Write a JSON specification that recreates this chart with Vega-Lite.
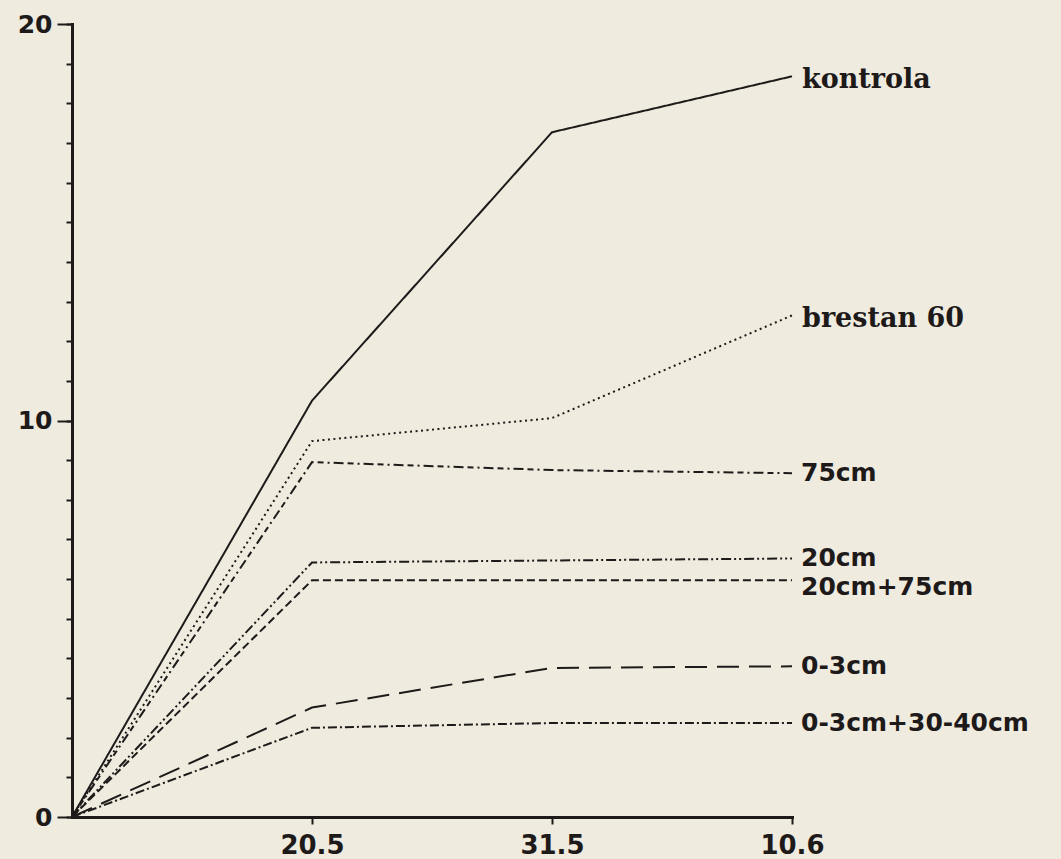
{
  "$schema": "https://vega.github.io/schema/vega-lite/v6.json",
  "width": 720,
  "height": 793,
  "autosize": {"type": "none"},
  "padding": {"left": 72, "top": 24, "right": 269, "bottom": 42},
  "background": "#efebdf",
  "config": {"view": {"stroke": null}},
  "datasets": {
    "growth": [
      {"series": "kontrola", "t": 0, "v": 0}, {"series": "kontrola", "t": 1, "v": 10.5}, {"series": "kontrola", "t": 2, "v": 17.27}, {"series": "kontrola", "t": 3, "v": 18.68},
      {"series": "brestan 60", "t": 0, "v": 0}, {"series": "brestan 60", "t": 1, "v": 9.48}, {"series": "brestan 60", "t": 2, "v": 10.06}, {"series": "brestan 60", "t": 3, "v": 12.65},
      {"series": "75cm", "t": 0, "v": 0}, {"series": "75cm", "t": 1, "v": 8.95}, {"series": "75cm", "t": 2, "v": 8.75}, {"series": "75cm", "t": 3, "v": 8.67},
      {"series": "20cm", "t": 0, "v": 0}, {"series": "20cm", "t": 1, "v": 6.42}, {"series": "20cm", "t": 2, "v": 6.47}, {"series": "20cm", "t": 3, "v": 6.52},
      {"series": "20cm+75cm", "t": 0, "v": 0}, {"series": "20cm+75cm", "t": 1, "v": 5.97}, {"series": "20cm+75cm", "t": 2, "v": 5.97}, {"series": "20cm+75cm", "t": 3, "v": 5.97},
      {"series": "0-3cm", "t": 0, "v": 0}, {"series": "0-3cm", "t": 1, "v": 2.76}, {"series": "0-3cm", "t": 2, "v": 3.76}, {"series": "0-3cm", "t": 3, "v": 3.8},
      {"series": "0-3cm+30-40cm", "t": 0, "v": 0}, {"series": "0-3cm+30-40cm", "t": 1, "v": 2.25}, {"series": "0-3cm+30-40cm", "t": 2, "v": 2.37}, {"series": "0-3cm+30-40cm", "t": 3, "v": 2.37}
    ]
  },
  "data": {"name": "growth"},
  "resolve": {"axis": {"y": "independent"}},
  "layer": [
    {
      "mark": {"type": "line", "color": "#1e1a1a", "strokeWidth": 2, "strokeCap": "butt"},
      "encoding": {
        "x": {
          "field": "t", "type": "quantitative",
          "scale": {"domain": [0, 3], "nice": false, "zero": false},
          "axis": {
            "title": null, "values": [1, 2, 3], "grid": false,
            "labelExpr": "['', '20.5', '31.5', '10.6'][datum.value]",
            "domainColor": "#1e1a1a", "domainWidth": 3, "domainCap": "square",
            "tickColor": "#1e1a1a", "tickWidth": 2, "tickSize": 7,
            "labelFont": "DejaVu Sans", "labelFontWeight": "bold", "labelFontSize": 26,
            "labelColor": "#1e1a1a", "labelPadding": 8, "labelFlush": false, "labelOverlap": false
          }
        },
        "y": {
          "field": "v", "type": "quantitative",
          "scale": {"domain": [0, 20], "nice": false},
          "axis": {
            "title": null, "grid": false, "orient": "left",
            "values": [0,1,2,3,4,5,6,7,8,9,10,11,12,13,14,15,16,17,18,19,20],
            "labels": false,
            "domainColor": "#1e1a1a", "domainWidth": 3, "domainCap": "square",
            "tickColor": "#1e1a1a", "tickWidth": 2, "tickSize": 6
          }
        },
        "detail": {"field": "series"},
        "strokeDash": {
          "field": "series", "type": "nominal", "legend": null,
          "scale": {
            "domain": ["kontrola", "brestan 60", "75cm", "20cm", "20cm+75cm", "0-3cm", "0-3cm+30-40cm"],
            "range": [[1, 0], [2, 3.5], [10, 4, 6, 4, 2, 4], [10, 3, 2, 3, 2, 3], [8, 4], [22, 10], [9, 3, 2, 3]]
          }
        }
      }
    },
    {
      "transform": [{"filter": "datum.t === 3 && (datum.series === 'kontrola' || datum.series === 'brestan 60')"}],
      "mark": {"type": "text", "align": "left", "baseline": "middle", "dx": 10, "dy": 4, "font": "DejaVu Serif", "fontWeight": "bold", "fontSize": 27, "color": "#1e1a1a"},
      "encoding": {
        "x": {"field": "t", "type": "quantitative"},
        "y": {
          "field": "v", "type": "quantitative",
          "axis": {
            "title": null, "grid": false, "orient": "left",
            "values": [0, 10, 20],
            "domain": false,
            "tickColor": "#1e1a1a", "tickWidth": 2, "tickSize": 15,
            "labelFont": "DejaVu Sans", "labelFontWeight": "bold", "labelFontSize": 25,
            "labelColor": "#1e1a1a", "labelPadding": 5, "labelFlush": false, "labelOverlap": false
          }
        },
        "text": {"field": "series"}
      }
    },
    {
      "transform": [{"filter": "datum.t === 3 && datum.series !== 'kontrola' && datum.series !== 'brestan 60' && datum.series !== '20cm+75cm'"}],
      "mark": {"type": "text", "align": "left", "baseline": "middle", "dx": 9, "dy": 0, "font": "DejaVu Sans", "fontWeight": "bold", "fontSize": 25, "color": "#1e1a1a"},
      "encoding": {
        "x": {"field": "t", "type": "quantitative"},
        "y": {"field": "v", "type": "quantitative", "axis": null},
        "text": {"field": "series"}
      }
    },
    {
      "transform": [{"filter": "datum.t === 3 && datum.series === '20cm+75cm'"}],
      "mark": {"type": "text", "align": "left", "baseline": "middle", "dx": 9, "dy": 7, "font": "DejaVu Sans", "fontWeight": "bold", "fontSize": 25, "color": "#1e1a1a"},
      "encoding": {
        "x": {"field": "t", "type": "quantitative"},
        "y": {"field": "v", "type": "quantitative", "axis": null},
        "text": {"field": "series"}
      }
    }
  ]
}
